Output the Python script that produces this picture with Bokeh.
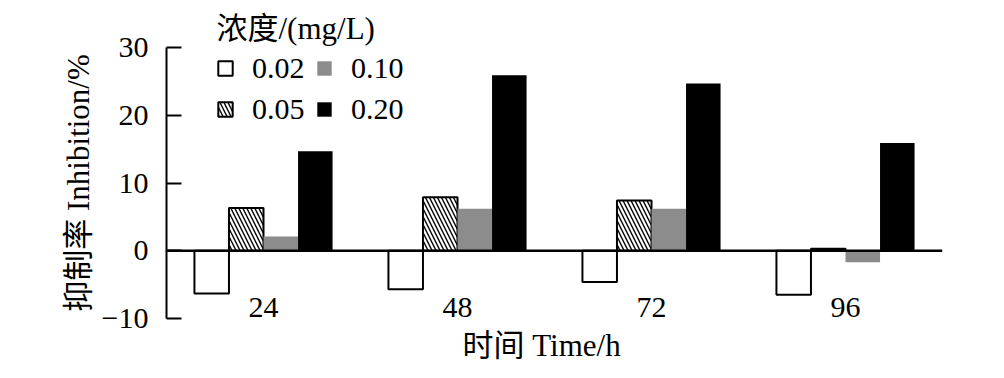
from bokeh.plotting import figure
from bokeh.models import (ColumnDataSource, FactorRange, Range1d, FixedTicker, Span,
                          Legend, LegendItem, Title)
from bokeh.transform import dodge
from bokeh.core.properties import value
from bokeh.embed import file_html
from bokeh.resources import INLINE

# ---- data ----
times = ["24", "48", "72", "96"]
conc_002 = [-6.3, -5.7, -4.6, -6.5]
conc_005 = [6.3, 7.9, 7.4, 0.3]
conc_010 = [2.1, 6.2, 6.2, -1.7]
conc_020 = [14.7, 25.9, 24.7, 15.9]
series_labels = ["0.02", "0.05", "0.10", "0.20"]
y_ticks = [-10, 0, 10, 20, 30]
legend_title = "浓度/(mg/L)"
x_title = "时间 Time/h"
y_title = "抑制率 Inhibition/%"

FONT = "Liberation Serif, Noto Sans CJK SC"
FS = "30px"
BAR_W = 0.178
LABEL_Y = -8.4

src = ColumnDataSource(dict(t=times, c002=conc_002, c005=conc_005,
                            c010=conc_010, c020=conc_020, lab=times,
                            ly=[LABEL_Y] * len(times)))

p = figure(width=1000, height=374, output_backend="svg", toolbar_location=None,
           x_range=FactorRange(factors=times, range_padding=0),
           y_range=Range1d(-10, 30), x_axis_location=None,
           min_border_left=166, min_border_right=58,
           min_border_top=47, min_border_bottom=56)
p.outline_line_color = None
p.xgrid.visible = False
p.ygrid.visible = False
p.background_fill_color = "white"
p.border_fill_color = "white"

# legend title as plot title (sits above the frame)
p.title.text = legend_title
p.title.align = "left"
p.title.offset = 50
p.title.text_font = FONT
p.title.text_font_size = "31px"
p.title.text_font_style = "normal"
p.title.text_color = "black"
p.title.standoff = 4

r1 = p.vbar(x=dodge("t", -1.5 * BAR_W, range=p.x_range), top="c002", bottom=0,
            width=BAR_W, source=src, fill_color="white", line_color="black",
            line_width=2)
r2 = p.vbar(x=dodge("t", -0.5 * BAR_W, range=p.x_range), top="c005", bottom=0,
            width=BAR_W, source=src, fill_color="white", line_color="black",
            line_width=2, hatch_pattern="\\", hatch_color="black",
            hatch_scale=8, hatch_weight=1.4)
r3 = p.vbar(x=dodge("t", 0.5 * BAR_W, range=p.x_range), top="c010", bottom=0,
            width=BAR_W, source=src, fill_color="#8c8c8c", line_color=None)
r4 = p.vbar(x=dodge("t", 1.5 * BAR_W, range=p.x_range), top="c020", bottom=0,
            width=BAR_W, source=src, fill_color="black", line_color=None)

p.add_layout(Span(location=0, dimension="width", line_color="black", line_width=2.5))

p.text(x="t", y="ly", text="lab", source=src, text_align="center",
       text_baseline="middle", text_font=value(FONT), text_font_size=FS,
       text_color="black")

# y axis
ya = p.yaxis[0]
ya.ticker = FixedTicker(ticks=y_ticks)
ya.major_label_overrides = {-10: "\u221210"}
ya.major_tick_in = 15
ya.major_tick_out = 0
ya.minor_tick_line_color = None
ya.axis_line_width = 2
ya.major_tick_line_width = 2
ya.major_label_standoff = 18
ya.major_label_text_font = FONT
ya.major_label_text_font_size = FS
ya.major_label_text_color = "black"
ya.axis_label = y_title
ya.axis_label_text_font = FONT
ya.axis_label_text_font_size = "31px"
ya.axis_label_text_font_style = "normal"
ya.axis_label_text_color = "black"
ya.axis_label_standoff = 3

# x axis title
p.add_layout(Title(text=x_title, align="left", offset=296, text_font=FONT,
                   text_font_size="31px", text_font_style="normal",
                   text_color="black", standoff=15), "below")

legend = Legend(items=[LegendItem(label=series_labels[i], renderers=[r])
                       for i, r in enumerate([r1, r2, r3, r4])],
                ncols=2, location=(50, 192),
                label_text_font=FONT, label_text_font_size=FS,
                label_text_color="black",
                glyph_width=18, glyph_height=18, label_standoff=18,
                label_width=56, spacing=7, padding=0, margin=0,
                border_line_color=None, background_fill_alpha=0)
p.add_layout(legend, "center")

open("out.html", "w").write(file_html(p, INLINE))
